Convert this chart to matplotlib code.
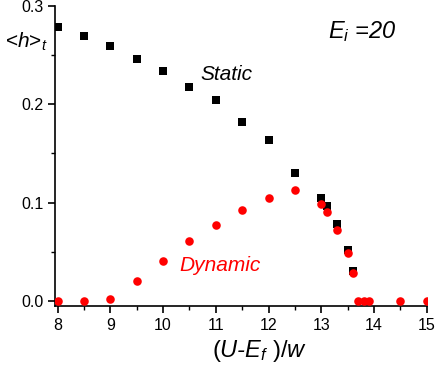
import matplotlib
matplotlib.use("Agg")
import matplotlib.pyplot as plt
from matplotlib.ticker import MultipleLocator, FormatStrFormatter

plt.rcParams['font.family'] = ['Liberation Sans', 'DejaVu Sans']
plt.rcParams['mathtext.fontset'] = 'custom'
plt.rcParams['mathtext.rm'] = 'Liberation Sans'
plt.rcParams['mathtext.it'] = 'Liberation Sans:italic'

# static (black squares)
x_static = [8, 8.5, 9, 9.5, 10, 10.5, 11, 11.5, 12, 12.5,
            13.0, 13.1, 13.3, 13.5, 13.6]
h_static = [0.279, 0.269, 0.259, 0.246, 0.234, 0.218, 0.204, 0.182, 0.164, 0.130,
            0.1045, 0.097, 0.078, 0.052, 0.031]

# dynamic (red circles)
x_dyn = [8, 8.5, 9, 9.5, 10, 10.5, 11, 11.5, 12, 12.5,
         13.0, 13.1, 13.3, 13.5, 13.6, 13.7, 13.8, 13.9, 14.5, 15]
h_dyn = [0.0, 0.0, 0.002, 0.020, 0.041, 0.061, 0.077, 0.093, 0.105, 0.113,
         0.099, 0.091, 0.072, 0.049, 0.029, 0.0, 0.0, 0.0, 0.0, 0.0]

fig = plt.figure(figsize=(4.36, 3.70), dpi=100)
ax = fig.add_axes([0.126, 0.173, 0.853, 0.811])

ax.scatter(x_static, h_static, marker='s', s=26, color='black', linewidths=0, zorder=2)
ax.scatter(x_dyn, h_dyn, marker='o', s=38, color='red', linewidths=0, zorder=3)

ax.set_xlim(7.95, 15)
ax.set_ylim(-0.005, 0.3)

for side in ['top', 'right']:
    ax.spines[side].set_visible(False)
for side in ['left', 'bottom']:
    ax.spines[side].set_linewidth(1.2)

ax.xaxis.set_major_locator(MultipleLocator(1))
ax.xaxis.set_minor_locator(MultipleLocator(0.5))
ax.yaxis.set_major_locator(MultipleLocator(0.1))
ax.yaxis.set_minor_locator(MultipleLocator(0.05))
ax.tick_params(which='major', direction='out', length=5, width=1.2, labelsize=11.5)
ax.tick_params(which='minor', direction='out', length=3, width=1.0)
ax.yaxis.set_major_formatter(FormatStrFormatter('%.1f'))

# axis labels
fig.text(0.596, 0.051, r'$(U$-$E_f\ )/w$', fontsize=17, fontstyle='italic',
         ha='center', va='center')
fig.text(0.012, 0.87, r'<$h$>$_t$', fontsize=15)

ax.text(13.13, 0.2675, r'$E_i$ =20', fontsize=17, fontstyle='italic', va='baseline')
ax.text(10.7, 0.225, 'Static', fontsize=15, fontstyle='italic', color='black')
ax.text(10.3, 0.031, 'Dynamic', fontsize=15, fontstyle='italic', color='red')

fig.savefig('out.png', dpi=100)
